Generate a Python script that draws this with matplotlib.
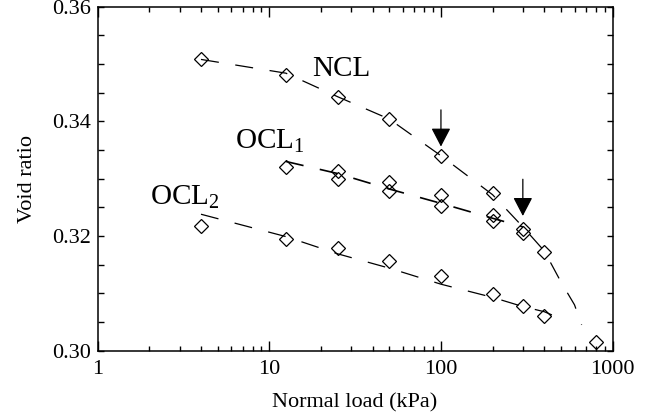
import matplotlib
matplotlib.use("Agg")
import matplotlib.pyplot as plt
from matplotlib.ticker import FixedLocator, FixedFormatter, LogLocator, NullFormatter, MultipleLocator

plt.rcParams["font.family"] = ["Liberation Serif", "DejaVu Serif"]
plt.rcParams["mathtext.fontset"] = "custom"
plt.rcParams["mathtext.rm"] = "Liberation Serif"
plt.rcParams["mathtext.it"] = "Liberation Serif:italic"
plt.rcParams["lines.scale_dashes"] = False

# Measured points (normal load in kPa, void ratio)
ncl_load = [4, 12.5, 25, 50, 100, 200, 400, 800]
ncl_e = [0.3508, 0.3481, 0.3443, 0.3404, 0.3340, 0.3275, 0.3173, 0.3016]

ocl1_load = [12.5, 25, 25, 50, 50, 100, 100, 200, 200, 300, 300]
ocl1_e = [0.3321, 0.3313, 0.3299, 0.3295, 0.3279, 0.3272, 0.3252, 0.3237, 0.3227, 0.3213, 0.3206]

ocl2_load = [4, 12.5, 25, 50, 100, 200, 300, 400]
ocl2_e = [0.3217, 0.3195, 0.3179, 0.3157, 0.3131, 0.3099, 0.3078, 0.3061]

# Trend curves through each data set
ncl_fit_load = [4, 12.5, 25, 50, 100, 200, 300, 400, 500, 600, 660]
ncl_fit_e = [0.3508, 0.3484, 0.3443, 0.3404, 0.3340, 0.3272, 0.3216, 0.3174, 0.3120, 0.3080, 0.3045]

ocl1_fit_load = [12.5, 25, 50, 100, 200, 300]
ocl1_fit_e = [0.3330, 0.3309, 0.3282, 0.3257, 0.3231, 0.3216]

ocl2_fit_load = [4, 12.5, 25, 50, 100, 200, 300, 400, 480]
ocl2_fit_e = [0.3238, 0.3199, 0.3169, 0.3144, 0.3116, 0.3093, 0.3077, 0.3068, 0.3058]

# Yield-point arrows: (load, tail void ratio, tip void ratio)
arrow_load = [100, 300]
arrow_tail = [0.3420, 0.3299]
arrow_tip = [0.3356, 0.3235]

x_ticks = [1, 10, 100, 1000]
x_ticklabels = ["1", "10", "100", "1000"]
y_ticks = [0.30, 0.32, 0.34, 0.36]
y_ticklabels = ["0.30", "0.32", "0.34", "0.36"]

fig = plt.figure(figsize=(6.51, 4.17), dpi=100)
ax = fig.add_axes([0.150, 0.159, 0.791, 0.825])

dash = (0, (13, 12))
for fl, fe, lw in [(ncl_fit_load, ncl_fit_e, 0.9),
                   (ocl1_fit_load, ocl1_fit_e, 1.2),
                   (ocl2_fit_load, ocl2_fit_e, 0.9)]:
    ax.plot(fl, fe, color="black", lw=lw, linestyle=dash, zorder=2)

for ld, e in [(ncl_load, ncl_e), (ocl1_load, ocl1_e), (ocl2_load, ocl2_e)]:
    ax.plot(ld, e, linestyle="none", marker="D", ms=7, mfc="white",
            mec="black", mew=0.9, fillstyle="none", zorder=3)

for xl, yt, yh in zip(arrow_load, arrow_tail, arrow_tip):
    ax.annotate("", xy=(xl, yh), xytext=(xl, yt),
                arrowprops=dict(arrowstyle="-|>,head_length=1.15,head_width=0.6",
                                mutation_scale=10, color="black", lw=0.9,
                                shrinkA=0, shrinkB=0), zorder=4)

ax.text(17.7, 0.3479, "NCL", fontsize=21, va="baseline", ha="left")
ax.text(6.31, 0.3352, r"OCL$_{\mathrm{1}}$", fontsize=21, va="baseline", ha="left")
ax.text(2.02, 0.3254, r"OCL$_{\mathrm{2}}$", fontsize=21, va="baseline", ha="left")

ax.set_xscale("log")
ax.set_xlim(1, 1000)
ax.set_ylim(0.30, 0.36)
ax.xaxis.set_major_locator(FixedLocator(x_ticks))
ax.xaxis.set_major_formatter(FixedFormatter(x_ticklabels))
ax.xaxis.set_minor_locator(LogLocator(base=10, subs=range(2, 10)))
ax.xaxis.set_minor_formatter(NullFormatter())
ax.yaxis.set_major_locator(FixedLocator(y_ticks))
ax.yaxis.set_major_formatter(FixedFormatter(y_ticklabels))
ax.yaxis.set_minor_locator(MultipleLocator(0.005))

ax.tick_params(which="both", direction="in", top=True, right=True,
               width=1.0, labelsize=16, colors="black")
ax.tick_params(axis="x", which="major", length=7, pad=7)
ax.tick_params(axis="x", which="minor", length=3.6)
ax.tick_params(axis="y", which="both", length=4.3, pad=5)
for s in ax.spines.values():
    s.set_linewidth(1.1)

ax.set_xlabel("Normal load (kPa)", fontsize=16, labelpad=10)
ax.set_ylabel("Void ratio", fontsize=16, labelpad=11)

fig.savefig("out.png", dpi=100)
